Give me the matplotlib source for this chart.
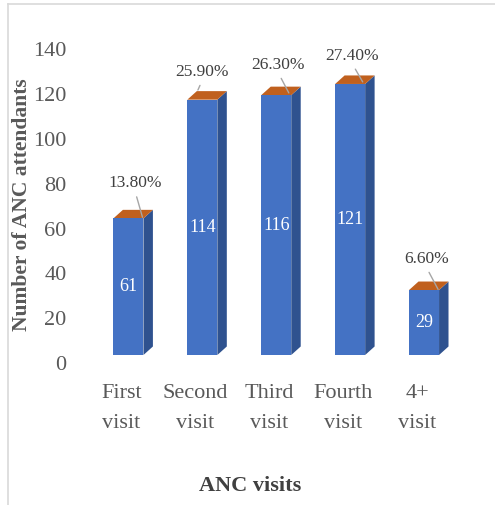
import matplotlib
matplotlib.use("Agg")
import matplotlib.pyplot as plt
from matplotlib.patches import Polygon
from matplotlib.lines import Line2D
from matplotlib.transforms import ScaledTranslation

#  Data 
categories = ["First\nvisit", "Second\nvisit", "Third\nvisit", "Fourth\nvisit", "4+\nvisit"]
attendants = [61, 114, 116, 121, 29]
percent_labels = ["13.80%", "25.90%", "26.30%", "27.40%", "6.60%"]
y_ticks = [0, 20, 40, 60, 80, 100, 120, 140]

#  Style 
FRONT = "#4472C4"
SIDE = "#2F528F"
TOP = "#C0601E"
TEXT = "#595959"
LEADER = "#A6A6A6"
BAR_W = 0.406
DEPTH_X = 0.128
DEPTH_Y = 3.8

# label placement (data units, relative to bar front-top centre)
label_offsets = [(0.09, 15.6), (0.0, 12.3), (0.03, 13.4), (0.03, 12.5), (0.03, 13.8)]
leader_ends = [(0.19, 0.5), (-0.06, 4.3), (0.17, 1.0), (0.17, 0.9), (0.19, 0.3)]

plt.rcParams["font.family"] = ["Liberation Serif", "DejaVu Serif"]

fig = plt.figure(figsize=(4.95, 5.05), dpi=100)
ax = fig.add_axes([91.5 / 495, 1 - 355 / 505, 369.5 / 495, 313.6 / 505])

xs = list(range(len(categories)))

for x, h in zip(xs, attendants):
    left, right = x - BAR_W / 2, x + BAR_W / 2
    # front
    ax.add_patch(Polygon([(left, 0), (right, 0), (right, h), (left, h)],
                         closed=True, facecolor=FRONT, edgecolor="none", zorder=3))
    # side
    ax.add_patch(Polygon([(right, 0), (right + DEPTH_X, DEPTH_Y),
                          (right + DEPTH_X, h + DEPTH_Y), (right, h)],
                         closed=True, facecolor=SIDE, edgecolor="none", zorder=2))
    # top
    ax.add_patch(Polygon([(left, h), (right, h), (right + DEPTH_X, h + DEPTH_Y),
                          (left + DEPTH_X, h + DEPTH_Y)],
                         closed=True, facecolor=TOP, edgecolor="none", zorder=2))
    ax.text(x, h / 2, str(h), ha="center", va="center", color="white",
            fontsize=13, zorder=4)

for x, h, lab, (ox, oy), (ex, ey) in zip(xs, attendants, percent_labels,
                                         label_offsets, leader_ends):
    ax.annotate(lab, xy=(x + ex, h + ey), xytext=(x + ox, h + oy),
                textcoords="data", ha="center", va="center",
                fontsize=12.5, color="#404040", annotation_clip=False,
                arrowprops=dict(arrowstyle="-", color=LEADER, lw=1,
                                relpos=(0.5, 0), shrinkA=2, shrinkB=0))

ax.set_xlim(-0.5, len(categories) - 0.5)
ax.set_ylim(0, 140)
ax.set_yticks(y_ticks)
ax.set_xticks(xs)
ax.set_xticklabels(categories, linespacing=1.75)
ax.tick_params(axis="both", length=0, labelsize=16, labelcolor=TEXT)
ax.tick_params(axis="y", pad=18)
ax.tick_params(axis="x", pad=21)
for s in ax.spines.values():
    s.set_visible(False)

for lbl in ax.get_yticklabels():
    lbl.set_transform(lbl.get_transform() + ScaledTranslation(0, -8 / 100, fig.dpi_scale_trans))
for lbl in ax.get_xticklabels():
    lbl.set_transform(lbl.get_transform() + ScaledTranslation(-7 / 100, 0, fig.dpi_scale_trans))

fig.text(22 / 495, 1 - 205 / 505, "Number of ANC attendants", rotation=90,
         ha="center", va="center", fontsize=15.5, fontweight="bold", color=TEXT)
fig.text(250 / 495, 1 - 486 / 505, "ANC visits", ha="center", va="center",
         fontsize=16, fontweight="bold", color="#404040")

# outer frame (top and left edges only visible)
fig.add_artist(Line2D([8 / 495, 8 / 495], [0, 1 - 4 / 505], transform=fig.transFigure,
                      color="#D9D9D9", lw=1.2))
fig.add_artist(Line2D([8 / 495, 1], [1 - 4 / 505, 1 - 4 / 505], transform=fig.transFigure,
                      color="#D9D9D9", lw=1.2))

fig.savefig("out.png", dpi=100)
